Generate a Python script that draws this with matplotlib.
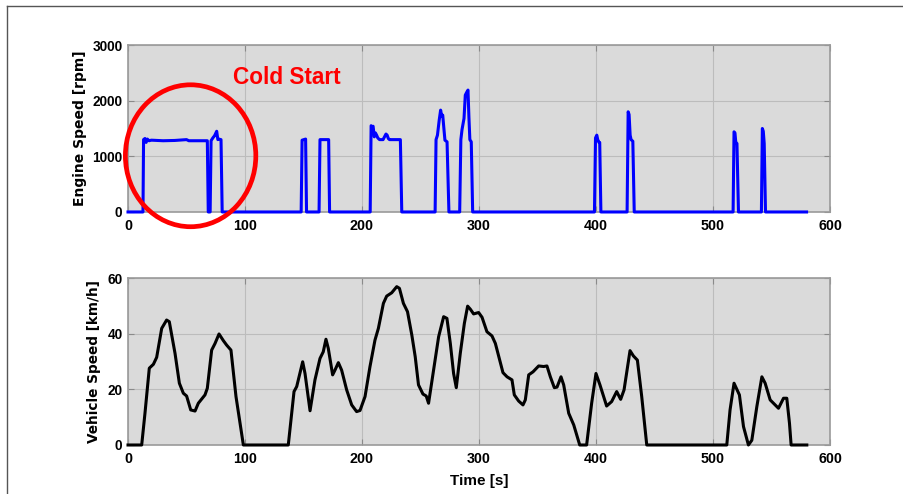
import matplotlib
matplotlib.use("Agg")
import matplotlib.pyplot as plt
from matplotlib.patches import Ellipse
from matplotlib.lines import Line2D

# ---------------- data ----------------
engine_time = [0, 12.8, 13.3, 14.5, 15.5, 16.5, 18, 20, 30, 40, 50, 52, 60, 67.8, 68.6, 70.2,
               71.0, 72.5, 74.0, 75.8, 76.8, 77.5, 79.5, 80.5,
               148.0, 148.8, 151.8, 152.6,
               163.3, 164.1, 171.5, 172.3,
               207.0, 207.8, 208.6, 209.5, 210.5, 211.5, 212.5, 213.5, 215.0, 218.0, 220.5, 221.5,
               222.5, 223.5, 232.8, 234.0,
               262.5, 263.3, 264.5, 266.0, 267.2, 268.2, 269.0, 270.0, 270.9, 272.7, 274.3,
               283.5, 284.5, 285.5, 287.2, 288.3, 289.5, 290.6, 291.4, 292.2, 293.4, 294.6,
               398.7, 399.6, 400.7, 401.5, 402.5, 403.2, 404.2,
               426.6, 427.5, 428.3, 429.2, 430.0, 431.5, 432.7,
               517.2, 518.0, 518.8, 519.5, 520.5, 521.8,
               541.4, 542.2, 543.0, 543.8, 544.9, 580.0]
engine_rpm = [0, 0, 1300, 1320, 1250, 1310, 1280, 1290, 1280, 1285, 1300, 1280, 1280, 1280, 0, 0,
              1280, 1330, 1370, 1450, 1300, 1310, 1300, 0,
              0, 1290, 1310, 0,
              0, 1300, 1300, 0,
              0, 1550, 1530, 1540, 1350, 1420, 1380, 1330, 1300, 1300, 1400, 1380,
              1320, 1300, 1300, 0,
              0, 1300, 1380, 1650, 1830, 1720, 1740, 1500, 1290, 1260, 0,
              0, 1300, 1480, 1680, 2100, 2150, 2190, 1700, 1300, 1260, 0,
              0, 1330, 1380, 1300, 1250, 1250, 0,
              0, 1800, 1750, 1380, 1300, 1270, 0,
              0, 1440, 1420, 1250, 1230, 0,
              0, 1500, 1450, 1230, 0, 0]

vehicle_time = [0, 11.7, 14.5, 18.2, 21.7, 24.5, 28.8, 33.0, 35.3, 40.2, 43.9, 47.3, 50.1, 53.6,
                57.3, 60.1, 65.8, 67.8, 71.5, 74.4, 77.8, 81.5, 84.3, 88.0, 92.3, 98.6,
                137.0, 141.9, 144.2, 149.3, 151.3, 155.6, 159.8, 164.1, 166.9, 169.2, 171.2,
                174.9, 176.9, 179.8, 182.6, 186.9, 191.2, 195.4, 198.3, 202.6, 206.8, 211.1,
                214.0, 218.3, 221.1, 225.4, 229.7, 232.0, 235.4, 238.9, 242.6, 245.5, 248.3,
                252.1, 254.9, 256.9, 261.2, 265.5, 269.8, 272.6, 275.5, 278.3, 280.6, 284.0,
                287.5, 290.3, 292.6, 295.4, 299.7, 302.6, 306.8, 311.1, 314.0, 317.7, 320.5,
                324.0, 328.2, 330.2, 333.9, 337.6, 339.6, 342.5, 346.2, 351.0, 355.3, 358.1,
                361.0, 364.4, 366.7, 370.1, 372.4, 376.7, 381.0, 386.1, 392.0, 396.3, 400.0,
                403.4, 409.1, 413.4, 417.7, 421.1, 424.0, 429.1, 432.0, 435.4, 439.1, 443.4,
                511.8, 514.6, 518.0, 522.6, 526.1, 530.3, 533.2, 537.5, 541.8, 544.6, 548.9,
                556.0, 560.3, 563.1, 565.4, 566.8, 580.2]
vehicle_kmh = [0, 0, 11.4, 27.6, 29.0, 31.5, 41.9, 44.9, 44.3, 32.9, 22.2, 18.6, 17.6, 12.6,
               12.2, 15.0, 18.0, 20.4, 34.1, 36.5, 39.9, 37.5, 35.9, 34.1, 17.4, 0,
               0, 19.2, 21.0, 29.9, 25.7, 12.3, 23.4, 31.1, 33.5, 38.0, 34.7,
               25.2, 26.9, 29.6, 26.9, 19.8, 14.4, 12.0, 12.4, 17.4, 28.1, 37.7,
               41.9, 50.9, 53.5, 54.7, 56.9, 56.3, 50.9, 47.9, 39.5, 31.7, 21.6,
               18.3, 17.6, 15.0, 26.9, 38.9, 46.1, 45.5, 36.5, 25.7, 20.6, 32.9,
               43.7, 49.9, 48.8, 47.1, 47.6, 45.9, 40.7, 39.2, 36.5, 30.5, 26.0,
               24.5, 23.4, 18.0, 15.8, 14.4, 16.2, 25.2, 26.3, 28.4, 28.2, 28.4,
               24.5, 20.6, 20.8, 24.5, 21.6, 11.4, 7.2, 0, 0, 15.0, 25.7,
               21.6, 14.0, 15.6, 19.2, 16.4, 19.8, 33.9, 32.0, 30.5, 17.4, 0,
               0, 12.6, 22.2, 18.0, 6.6, 0, 1.7, 13.8, 24.5, 22.2, 16.2,
               13.2, 16.8, 16.8, 7.8, 0, 0]

x_ticks = [0, 100, 200, 300, 400, 500, 600]
engine_ticks = [0, 1000, 2000, 3000]
vehicle_ticks = [0, 20, 40, 60]

# ---------------- style ----------------
SANS = ['Liberation Sans', 'DejaVu Sans']
WIDE = ['DejaVu Sans']
plt.rcParams['font.family'] = SANS
plt.rcParams['font.weight'] = 'bold'
plt.rcParams['font.size'] = 10

fig = plt.figure(figsize=(9.04, 4.94), dpi=100)
fig.patch.set_facecolor('white')

ax1 = fig.add_axes([0.1416, 0.5709, 0.7765, 0.3380])
ax2 = fig.add_axes([0.1416, 0.0992, 0.7765, 0.3380])

BG = '#dadada'
for ax in (ax1, ax2):
    ax.set_facecolor(BG)
    ax.set_xlim(0, 600)
    ax.set_xticks(x_ticks)
    ax.grid(True, color='#bcbcbc', linewidth=0.8)
    ax.set_axisbelow(True)
    for s in ax.spines.values():
        s.set_color('#9a9a9a')
        s.set_linewidth(1.2)
    ax.tick_params(direction='in', top=True, right=True, length=4, width=0.8,
                   color='#8a8a8a', labelsize=10.3, pad=5)
    ax.tick_params(axis='y', pad=4, labelsize=9.8)
    for lbl in ax.get_xticklabels() + ax.get_yticklabels():
        lbl.set_fontweight('bold')

ax1.plot(engine_time, engine_rpm, color='#0000ff', linewidth=2.2, solid_joinstyle='round',
         clip_on=False, zorder=4)
ax1.set_ylim(0, 3000)
ax1.set_yticks(engine_ticks)
ax1.set_ylabel('Engine Speed [rpm]', fontsize=10, fontweight='bold', family=WIDE)
ax1.yaxis.set_label_coords(-0.059, 0.5)

ax2.plot(vehicle_time, vehicle_kmh, color='black', linewidth=2.2, solid_joinstyle='round',
         clip_on=False, zorder=4)
ax2.set_ylim(0, 60)
ax2.set_yticks(vehicle_ticks)
ax2.set_ylabel('Vehicle Speed [km/h]', fontsize=9.8, fontweight='bold', family=WIDE)
ax2.yaxis.set_label_coords(-0.038, 0.5)
ax2.set_xlabel('Time [s]', fontsize=11, fontweight='bold')
ax2.xaxis.set_label_coords(0.5, -0.175)

# annotation: cold start circle and text
ell = Ellipse((53.5, 1010), width=111.5, height=2550, fill=False, edgecolor='#ff0000',
              linewidth=3.4, clip_on=False, zorder=5)
ax1.add_patch(ell)
ax1.text(89.5, 2420, 'Cold Start', color='#ff0000', fontsize=16.3, fontweight='bold',
         ha='left', va='center', zorder=6)

# outer frame lines (top and left)
fig.add_artist(Line2D([7 / 904, 1.0], [1 - 6 / 494, 1 - 6 / 494], transform=fig.transFigure,
                      color='#555555', linewidth=1.0))
fig.add_artist(Line2D([7 / 904, 7 / 904], [0, 1 - 6 / 494], transform=fig.transFigure,
                      color='#555555', linewidth=1.0))

fig.savefig('out.png', dpi=100)
